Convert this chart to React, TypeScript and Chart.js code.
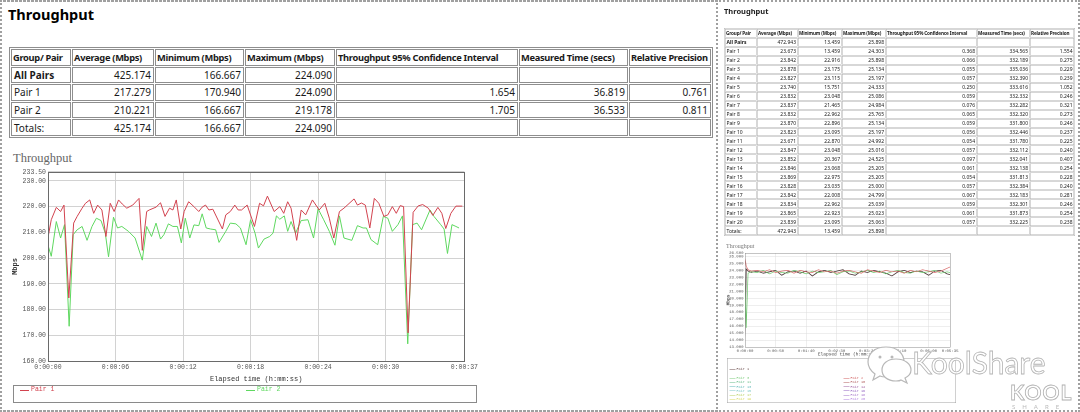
import React, { useEffect, useRef } from "react";
import { Chart, registerables } from "chart.js";

Chart.register(...registerables);

// ---------------- data ----------------
const tableHeaders = [
  "Group/ Pair",
  "Average (Mbps)",
  "Minimum (Mbps)",
  "Maximum (Mbps)",
  "Throughput 95% Confidence Interval",
  "Measured Time (secs)",
  "Relative Precision",
];

const leftRowLabels = ["All Pairs", "Pair 1", "Pair 2", "Totals:"];
const leftAverage = ["425.174", "217.279", "210.221", "425.174"];
const leftMinimum = ["166.667", "170.940", "166.667", "166.667"];
const leftMaximum = ["224.090", "224.090", "219.178", "224.090"];
const leftConfidence = ["", "1.654", "1.705", ""];
const leftMeasured = ["", "36.819", "36.533", ""];
const leftPrecision = ["", "0.761", "0.811", ""];

const rightRowLabels = [
  "All Pairs", "Pair 1", "Pair 2", "Pair 3", "Pair 4", "Pair 5", "Pair 6", "Pair 7", "Pair 8", "Pair 9", "Pair 10",
  "Pair 11", "Pair 12", "Pair 13", "Pair 14", "Pair 15", "Pair 16", "Pair 17", "Pair 18", "Pair 19", "Pair 20", "Totals:",
];
const rightAverage = ["472.943", "23.673", "23.842", "23.878", "23.827", "23.740", "23.832", "23.837", "23.832", "23.870", "23.823", "23.671", "23.847", "23.852", "23.846", "23.869", "23.828", "23.842", "23.834", "23.865", "23.839", "472.943"];
const rightMinimum = ["13.459", "13.459", "22.916", "23.175", "23.115", "15.751", "23.048", "21.465", "22.962", "22.896", "23.095", "22.870", "23.048", "20.367", "23.068", "22.975", "23.035", "22.008", "22.962", "22.923", "23.095", "13.459"];
const rightMaximum = ["25.898", "24.303", "25.898", "25.134", "25.197", "24.333", "25.086", "24.984", "25.765", "25.134", "25.197", "24.992", "25.016", "24.525", "25.205", "25.205", "25.000", "24.799", "25.039", "25.023", "25.063", "25.898"];
const rightConfidence = ["", "0.368", "0.066", "0.055", "0.057", "0.250", "0.059", "0.076", "0.065", "0.059", "0.056", "0.054", "0.057", "0.097", "0.061", "0.054", "0.057", "0.067", "0.059", "0.061", "0.057", ""];
const rightMeasured = ["", "334.565", "332.189", "335.036", "332.390", "333.616", "332.332", "332.282", "332.320", "331.800", "332.446", "331.780", "332.112", "332.041", "332.138", "331.813", "332.384", "332.183", "332.301", "331.873", "332.225", ""];
const rightPrecision = ["", "1.554", "0.275", "0.229", "0.239", "1.052", "0.246", "0.321", "0.273", "0.246", "0.237", "0.225", "0.240", "0.407", "0.254", "0.228", "0.240", "0.281", "0.246", "0.254", "0.238", ""];

// Main chart (seconds, Mbps)
const pair1Times = [0, 0.29, 0.74, 1.12, 1.42, 1.85, 2.28, 2.59, 3.03, 3.33, 3.71, 4.06, 4.41, 4.79, 5.15, 5.53, 5.88, 6.27, 6.6, 7.0, 7.53, 8.09, 8.38, 8.77, 9.0, 9.6, 10.0, 10.4, 10.8, 11.1, 11.4, 11.8, 12.1, 12.5, 12.97, 13.4, 13.7, 14.0, 14.3, 14.65, 15.5, 15.8, 16.2, 16.6, 16.9, 17.2, 17.7, 18.35, 18.8, 19.15, 19.5, 20.1, 20.6, 20.95, 21.3, 21.6, 22.1, 22.5, 22.9, 23.5, 24.1, 24.6, 25.0, 25.4, 25.9, 26.3, 27.2, 27.5, 27.85, 28.2, 28.6, 29.0, 29.4, 29.85, 30.2, 30.6, 30.95, 31.3, 31.6, 32.0, 32.45, 32.9, 33.3, 33.8, 34.2, 34.65, 35.0, 35.35, 35.8, 36.25, 36.82];
const pair1Values = [208.0, 214.9, 219.7, 218.1, 220.6, 184.5, 213.6, 216.2, 219.4, 221.3, 222.6, 217.4, 220.6, 218.7, 208.4, 221.3, 218.1, 222.6, 221.0, 219.4, 220.6, 223.2, 203.0, 218.1, 218.7, 219.8, 221.5, 216.2, 219.4, 218.7, 222.6, 211.3, 218.1, 221.9, 220.0, 218.1, 219.8, 220.6, 218.7, 219.0, 211.3, 216.8, 218.1, 220.6, 218.7, 218.7, 220.6, 212.3, 221.3, 220.3, 224.09, 218.1, 220.0, 217.4, 221.9, 219.4, 206.9, 218.7, 216.8, 222.6, 218.7, 221.3, 215.5, 207.8, 218.1, 219.4, 223.0, 220.6, 221.4, 220.6, 211.7, 223.2, 221.3, 216.2, 216.8, 220.0, 217.4, 220.4, 220.0, 170.94, 217.8, 220.3, 220.8, 219.4, 216.6, 219.7, 217.4, 211.5, 217.4, 220.2, 220.2];
const pair2Times = [0, 0.29, 0.74, 1.12, 1.47, 1.88, 2.24, 2.59, 3.03, 3.47, 3.91, 4.3, 4.71, 5.09, 5.38, 5.82, 6.18, 6.56, 7.15, 7.74, 8.38, 8.77, 9.2, 9.6, 10.0, 10.3, 10.7, 11.1, 11.5, 11.85, 12.2, 12.6, 12.97, 13.4, 13.7, 14.06, 14.45, 14.9, 15.2, 15.8, 16.2, 16.7, 17.1, 17.6, 18.0, 18.4, 18.7, 19.2, 19.7, 20.0, 20.3, 20.6, 21.0, 21.3, 21.6, 22.0, 22.5, 23.1, 23.6, 24.0, 24.5, 25.0, 25.5, 25.9, 26.3, 27.0, 27.5, 28.0, 28.3, 28.7, 29.3, 29.8, 30.2, 30.6, 31.1, 31.5, 31.97, 32.4, 32.8, 33.2, 33.95, 34.3, 34.9, 35.2, 35.5, 35.9, 36.25, 36.53];
const pair2Values = [205.0, 200.7, 214.2, 207.8, 213.0, 173.5, 209.1, 211.0, 212.3, 206.9, 212.3, 215.5, 214.6, 209.7, 200.5, 215.9, 211.7, 212.3, 210.4, 207.8, 199.2, 212.3, 208.4, 213.6, 207.4, 209.1, 213.3, 212.3, 212.3, 205.9, 215.5, 207.8, 212.9, 212.6, 217.2, 211.7, 211.3, 211.0, 206.1, 210.4, 213.6, 213.3, 211.7, 205.2, 214.9, 209.7, 203.9, 207.4, 208.4, 209.7, 216.4, 215.1, 216.4, 210.4, 214.2, 209.7, 214.6, 214.9, 207.8, 219.18, 214.9, 210.4, 205.0, 216.4, 207.8, 206.9, 212.6, 211.7, 211.7, 207.2, 205.2, 216.2, 215.5, 210.4, 213.0, 216.4, 166.67, 213.0, 213.6, 211.0, 218.7, 216.2, 213.0, 211.3, 201.8, 213.0, 212.3, 211.7];
const mainYTicks = [160, 170, 180, 190, 200, 210, 220, 230, 233.5];
const mainXTicks = [0, 6, 12, 18, 24, 30, 37];

// Mini chart (seconds, Mbps)
const miniTimes = [0, 2, 5, 10, 20, 30, 40, 50, 60, 70, 80, 90, 100, 110, 120, 130, 140, 150, 160, 170, 180, 190, 200, 210, 220, 230, 240, 250, 260, 270, 280, 290, 300, 310, 320, 330, 335];
const miniPair1 = [13.46, 24.2, 23.9, 23.7, 23.9, 23.6, 23.8, 24.0, 23.3, 23.8, 23.9, 23.6, 23.9, 23.2, 23.8, 24.0, 23.7, 23.9, 24.1, 23.5, 23.3, 23.9, 23.7, 24.0, 23.8, 23.6, 23.2, 23.8, 24.0, 23.7, 23.9, 23.8, 23.3, 23.9, 24.0, 23.5, 23.4];
const miniPair2 = [25.9, 24.6, 24.1, 23.9, 24.0, 23.8, 24.1, 23.7, 23.9, 24.0, 23.6, 24.0, 23.8, 23.7, 24.1, 23.8, 23.9, 23.6, 23.9, 24.0, 23.8, 23.6, 24.1, 23.9, 23.7, 24.0, 23.8, 23.9, 23.6, 24.0, 23.8, 24.1, 23.9, 23.7, 23.9, 24.3, 24.5];
const miniPair5 = [24.0, 15.75, 23.6, 23.8, 23.7, 24.0, 23.5, 23.9, 23.7, 23.6, 24.0, 23.8, 23.5, 23.9, 23.7, 23.8, 24.0, 23.4, 23.8, 23.9, 23.6, 23.8, 24.0, 23.7, 23.9, 23.5, 23.8, 24.0, 23.7, 23.6, 23.9, 23.7, 23.8, 24.0, 23.6, 23.8, 23.7];
const miniYTicks = [13, 14, 15, 16, 17, 18, 19, 20, 21, 22, 23, 24, 25, 26, 26.5];
const miniXTicks = [0, 50, 100, 150, 200, 250, 300, 335];

const miniLegendLeft = ["Pair 3", "Pair 11", "Pair 13", "Pair 15", "Pair 17", "Pair 19"];
const miniLegendLeftColors = ["#7ccc7c", "#66bb88", "#5fb8b8", "#7fc7c7", "#b8d060", "#d8d860"];
const miniLegendRight = ["Pair 2", "Pair 10", "Pair 14", "Pair 16", "Pair 18", "Pair 20"];
const miniLegendRightColors = ["#d06060", "#b05a5a", "#a060a0", "#9060c0", "#a070c8", "#b080e0"];

// ---------------- helpers ----------------
const RED = "#d2434f";
const GREEN = "#5fd860";
const UI_FONT = '"Noto Sans", "Open Sans", sans-serif';
const MONO = '"Liberation Mono", "DejaVu Sans Mono", monospace';

function fmtTime(s: number) {
  const h = Math.floor(s / 3600);
  const m = Math.floor((s % 3600) / 60);
  const sec = Math.round(s % 60);
  return `${h}:${String(m).padStart(2, "0")}:${String(sec).padStart(2, "0")}`;
}

const plotBorder = {
  id: "plotBorder",
  afterDraw(chart: any, _args: any, opts: any) {
    const { ctx, chartArea: a } = chart;
    ctx.save();
    ctx.strokeStyle = opts.color || "#666";
    ctx.lineWidth = 1;
    ctx.strokeRect(Math.round(a.left) + 0.5, Math.round(a.top) + 0.5, Math.round(a.right - a.left), Math.round(a.bottom - a.top));
    ctx.restore();
  },
};

function buildRows(labels: string[], cols: string[][]) {
  return [tableHeaders, ...labels.map((l, i) => [l, ...cols.map((c) => c[i])])];
}

function ReportTable(props: { left: number; top: number; width: number; height: number; colWidths: number[]; rows: string[][]; line: string; fontSize: number }) {
  const { left, top, width, height, colWidths, rows, line, fontSize } = props;
  return (
    <div
      style={{
        position: "absolute", left, top, width, height, boxSizing: "border-box",
        border: `1px solid ${line}`, padding: 1, display: "grid",
        gridTemplateColumns: colWidths.map((w) => w + "px").join(" "),
        gridTemplateRows: `repeat(${rows.length}, 1fr)`, gap: 1,
        fontFamily: UI_FONT, fontSize, color: "#1a1a1a",
      }}
    >
      {rows.flatMap((r, ri) =>
        r.map((c, ci) => (
          <div
            key={ri + "-" + ci}
            style={{
              border: `1px solid ${line}`, boxSizing: "border-box", display: "flex", alignItems: "center",
              justifyContent: ri === 0 || ci === 0 ? "flex-start" : "flex-end",
              padding: ri === 0 ? "0 1px" : "0 2px", whiteSpace: "nowrap", overflow: "hidden", lineHeight: 1,
              fontWeight: ri === 0 || (ri === 1 && ci === 0) ? 700 : 400,
              fontSize: ri === 0 ? fontSize * 0.93 : fontSize,
              letterSpacing: ri === 0 ? "-0.3px" : "0px",
            }}
          >
            {c}
          </div>
        ))
      )}
    </div>
  );
}

function axisCommon(ticksArr: number[], fmt: (v: number) => string, fontSize: number, tickPad: number, gridColor: string) {
  return {
    type: "linear" as const,
    min: ticksArr[0],
    max: ticksArr[ticksArr.length - 1],
    afterBuildTicks: (s: any) => {
      s.ticks = ticksArr.map((v) => ({ value: v }));
    },
    grid: { color: gridColor, lineWidth: 1, drawTicks: false },
    border: { display: false },
    ticks: { callback: (v: any) => fmt(Number(v)), font: { family: MONO, size: fontSize }, color: "#555", padding: tickPad, autoSkip: false, maxRotation: 0, minRotation: 0 },
  };
}

export default function App() {
  const mainRef = useRef<HTMLCanvasElement>(null);
  const miniRef = useRef<HTMLCanvasElement>(null);

  useEffect(() => {
    const main = new Chart(mainRef.current as HTMLCanvasElement, {
      type: "line",
      data: {
        datasets: [
          { label: "Pair 1", data: pair1Times.map((t, i) => ({ x: t, y: pair1Values[i] })), borderColor: RED, borderWidth: 1, pointRadius: 0, tension: 0 },
          { label: "Pair 2", data: pair2Times.map((t, i) => ({ x: t, y: pair2Values[i] })), borderColor: GREEN, borderWidth: 1, pointRadius: 0, tension: 0 },
        ],
      },
      options: {
        animation: false, responsive: false, events: [],
        layout: { padding: { left: 0, right: 13, top: 4, bottom: 0 } },
        plugins: { legend: { display: false }, tooltip: { enabled: false }, plotBorder: { color: "#6a6a6a" } } as any,
        scales: {
          x: {
            ...axisCommon(mainXTicks, fmtTime, 6.5, 2, "#d2d2d2"),
            afterFit: (s: any) => { s.height = 25; },
            title: { display: true, text: "Elapsed time (h:mm:ss)", font: { family: MONO, size: 7 }, color: "#333", padding: { top: 0, bottom: 3 } },
          } as any,
          y: {
            ...axisCommon(mainYTicks, (v) => v.toFixed(2), 6.5, 2, "#d2d2d2"),
            afterFit: (s: any) => { s.width = 48; },
            title: { display: true, text: "Mbps", font: { family: MONO, size: 7, weight: "bold" }, color: "#333", padding: { top: 11, bottom: 0 } },
          } as any,
        },
      },
      plugins: [plotBorder],
    });

    const mini = new Chart(miniRef.current as HTMLCanvasElement, {
      type: "line",
      data: {
        datasets: [
          { label: "Pair 2", data: miniTimes.map((t, i) => ({ x: t, y: miniPair2[i] })), borderColor: "#d86a6a", borderWidth: 1.4, pointRadius: 0, tension: 0 },
          { label: "Pair 5", data: miniTimes.map((t, i) => ({ x: t, y: miniPair5[i] })), borderColor: "#6cc86c", borderWidth: 1.4, pointRadius: 0, tension: 0 },
          { label: "Pair 1", data: miniTimes.map((t, i) => ({ x: t, y: miniPair1[i] })), borderColor: "#4a3434", borderWidth: 1.6, pointRadius: 0, tension: 0 },
        ],
      },
      options: {
        animation: false, responsive: false, events: [],
        layout: { padding: { left: 0, right: 18, top: 10, bottom: 0 } },
        plugins: { legend: { display: false }, tooltip: { enabled: false }, plotBorder: { color: "#888" } } as any,
        scales: {
          x: {
            ...axisCommon(miniXTicks, fmtTime, 8, 3, "#dcdcdc"),
            afterFit: (s: any) => { s.height = 26; },
            title: { display: true, text: "Elapsed time (h:mm:ss)", font: { family: MONO, size: 9 }, color: "#444", padding: { top: 0, bottom: 6 } },
          } as any,
          y: {
            ...axisCommon(miniYTicks, (v) => v.toFixed(3), 8, 3, "#dcdcdc"),
            afterFit: (s: any) => { s.width = 50; },
            title: { display: true, text: "Mbps", font: { family: MONO, size: 9, weight: "bold" }, color: "#444", padding: { top: 11, bottom: 0 } },
          } as any,
        },
      },
      plugins: [plotBorder],
    });

    return () => {
      main.destroy();
      mini.destroy();
    };
  }, []);

  const leftRows = buildRows(leftRowLabels, [leftAverage, leftMinimum, leftMaximum, leftConfidence, leftMeasured, leftPrecision]);
  const rightRows = buildRows(rightRowLabels, [rightAverage, rightMinimum, rightMaximum, rightConfidence, rightMeasured, rightPrecision]);

  const legendItem = (x: number, y: number, color: string, label: string, size: number, lineW: number) => (
    <div key={label + x + y} style={{ position: "absolute", left: x, top: y, display: "flex", alignItems: "center", fontFamily: MONO, fontSize: size, color, whiteSpace: "nowrap", lineHeight: 1 }}>
      <span style={{ display: "inline-block", width: lineW, height: 1, background: color, marginRight: 2 }} />
      {label}
    </div>
  );

  return (
    <div style={{ position: "fixed", left: 0, top: 0, width: 1080, height: 412, background: "#fff", overflow: "hidden" }}>
      {/* frames */}
      <div style={{ position: "absolute", left: 0, top: 0, width: 718, height: 412, boxSizing: "border-box", border: "2px dotted #a0a0a0" }} />
      <div style={{ position: "absolute", left: 0, top: 0, width: 1080, height: 412, boxSizing: "border-box", border: "2px dotted #a0a0a0" }} />

      <div style={{ position: "absolute", left: 8, top: 5, fontFamily: UI_FONT, fontWeight: 700, fontSize: 14.5, lineHeight: "18px", color: "#000" }}>Throughput</div>

      <ReportTable left={9} top={47} width={704} height={91} colWidths={[60, 82, 89, 90, 182, 109, 82]} rows={leftRows} line="#8e8e8e" fontSize={10} />

      <div style={{ position: "absolute", left: 13, top: 151, fontFamily: '"Liberation Serif", "DejaVu Serif", serif', fontSize: 12.5, lineHeight: "14px", color: "#666" }}>Throughput</div>

      <canvas ref={mainRef} width={480} height={220} style={{ position: "absolute", left: 0, top: 166 }} />

      <div style={{ position: "absolute", left: 13, top: 385, width: 464, height: 18, boxSizing: "border-box", border: "1px solid #8a8a8a" }}>
        {legendItem(6, 1, RED, "Pair 1", 6.5, 9)}
        {legendItem(232, 1, GREEN, "Pair 2", 6.5, 9)}
      </div>

      {/* right panel, drawn at 2x and scaled down */}
      <div style={{ position: "absolute", left: 720, top: 0, width: 712, height: 824, transform: "scale(0.5)", transformOrigin: "0 0" }}>
        <div style={{ position: "absolute", left: 8, top: 12, fontFamily: UI_FONT, fontWeight: 700, fontSize: 15, lineHeight: "18px", color: "#222" }}>Throughput</div>
        <ReportTable left={8} top={56} width={702} height={416} colWidths={[63, 81, 87, 87, 181, 105, 88]} rows={rightRows} line="#b0b0b0" fontSize={10} />
        <div style={{ position: "absolute", left: 12, top: 484, fontFamily: '"Liberation Serif", "DejaVu Serif", serif', fontSize: 12, lineHeight: "14px", color: "#777" }}>Throughput</div>
        <canvas ref={miniRef} width={480} height={224} style={{ position: "absolute", left: 0, top: 496 }} />
        <div style={{ position: "absolute", left: 14, top: 716, width: 458, height: 90, boxSizing: "border-box", border: "1px solid #a0a0a0" }}>
          {legendItem(4, 18, "#6a4a4a", "Pair 1", 7, 12)}
          {miniLegendLeft.map((l, i) => legendItem(4, 36 + i * 8.4, miniLegendLeftColors[i], l, 7, 12))}
          {miniLegendRight.map((l, i) => legendItem(232, 36 + i * 8.4, miniLegendRightColors[i], l, 7, 12))}
        </div>
      </div>

      {/* watermark */}
      <svg style={{ position: "absolute", left: 866, top: 343 }} width={50} height={42}>
        <path d="M20 4 C8 4 2 11 2 19 C2 24 5 28 9 31 L7 37 L14 33 C16 34 18 34 20 34 C32 34 38 27 38 19 C38 11 32 4 20 4 Z" fill="#fff" stroke="#b8b8b8" strokeWidth={1.2} />
        <path d="M30 16 C21 16 16 21 16 27 C16 33 21 38 30 38 C32 38 34 38 35 37 L41 40 L39 35 C43 33 45 30 45 27 C45 21 39 16 30 16 Z" fill="#fff" stroke="#b8b8b8" strokeWidth={1.2} />
        <circle cx={14} cy={14} r={1.5} fill="#b8b8b8" />
        <circle cx={26} cy={14} r={1.5} fill="#b8b8b8" />
      </svg>
      <div style={{ position: "absolute", left: 912, top: 345, fontFamily: "Lato, sans-serif", fontSize: 30, lineHeight: "34px", color: "#fff", WebkitTextStroke: "0.8px #b4b4b4" }}>KoolShare</div>
      <div style={{ position: "absolute", left: 1010, top: 380, fontFamily: "Lato, sans-serif", fontWeight: 700, fontSize: 21, lineHeight: "24px", color: "#fff", WebkitTextStroke: "0.8px #b0b0b0", letterSpacing: "1px" }}>KOOL</div>
      <div style={{ position: "absolute", left: 1012, top: 403, fontFamily: "Lato, sans-serif", fontSize: 6, lineHeight: "7px", color: "#bbb", letterSpacing: "7px" }}>SHARE</div>
    </div>
  );
}
